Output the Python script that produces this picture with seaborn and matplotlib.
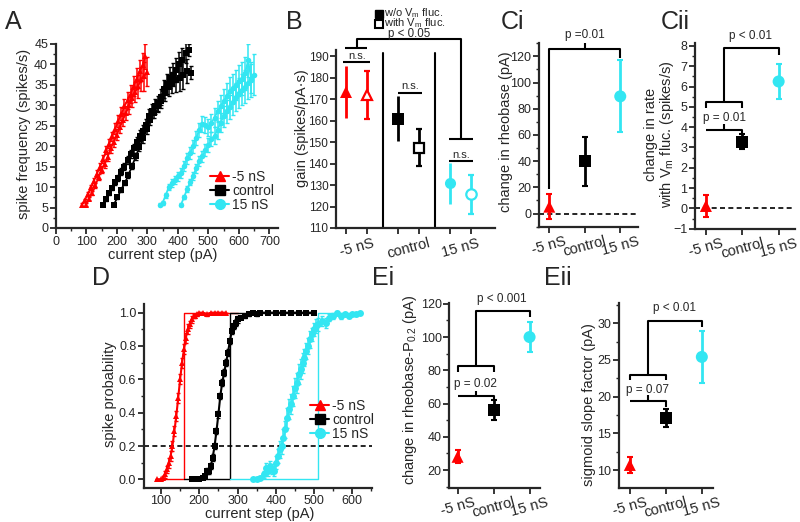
import matplotlib
matplotlib.use("Agg")
import matplotlib.pyplot as plt
import seaborn as sns
from matplotlib.lines import Line2D
from matplotlib.ticker import MultipleLocator

RED = "#ff0000"
BLK = "#000000"
CYN = "#33e6f2"
COLORS = [RED, BLK, CYN]
MARKERS = ["^", "s", "o"]
CONDS = ["-5 nS", "control", "15 nS"]

# ---- A: f-I curves (w/o and with Vm fluctuations) -------------------------
a_red_w_x = [85, 95, 105, 115, 125, 135, 145, 155, 165, 175, 185, 195, 205, 215,
             225, 235, 245, 255, 265, 275, 285, 293]
a_red_w_y = [5.7, 6.8, 8.3, 10.0, 11.6, 13.3, 15.0, 16.8, 19.0, 20.6, 22.4, 24.3,
             26.2, 27.9, 29.8, 31.2, 32.8, 34.8, 36.5, 38.4, 39.8, 42.0]
a_red_w_e = [0.3, 0.4, 0.5, 0.6, 0.7, 0.8, 0.9, 1.0, 1.0, 1.1, 1.2, 1.3, 1.4, 1.6,
             1.8, 2.0, 2.2, 2.4, 2.6, 2.8, 3.0, 3.0]
a_red_f_x = [100, 110, 120, 130, 140, 150, 160, 170, 180, 190, 200, 210, 220, 230,
             240, 250, 260, 270, 280, 290, 300]
a_red_f_y = [5.7, 7.2, 8.6, 10.4, 12.5, 14.3, 15.6, 17.4, 19.5, 21.0, 22.8, 24.6,
             26.5, 28.1, 30.0, 31.7, 33.2, 34.7, 36.4, 37.1, 38.2]
a_red_f_e = [0.3, 0.4, 0.5, 0.6, 0.7, 0.8, 0.9, 1.0, 1.1, 1.2, 1.3, 1.4, 1.6, 1.8,
             2.0, 2.2, 2.5, 2.8, 3.0, 3.5, 3.5]

a_blk_w_x = [155, 165, 175, 185, 195, 205, 215, 225, 235, 245, 255, 265, 275, 285,
             295, 305, 315, 325, 335, 345, 355, 365, 375, 385, 395, 405, 415, 425, 435]
a_blk_w_y = [5.7, 7.0, 8.5, 9.8, 11.2, 12.3, 13.8, 15.0, 16.7, 18.0, 19.5, 21.0,
             22.6, 23.8, 25.2, 27.5, 28.6, 29.8, 30.5, 32.0, 34.0, 35.2, 36.8, 37.5,
             38.6, 40.1, 41.0, 42.8, 43.5]
a_blk_w_e = [0.3, 0.4, 0.5, 0.5, 0.6, 0.7, 0.8, 0.9, 1.0, 1.0, 1.1, 1.2, 1.3, 1.4,
             1.5, 1.6, 1.7, 1.8, 1.9, 2.0, 2.2, 2.4, 2.6, 2.8, 3.0, 3.0, 3.0, 2.5, 1.5]
a_blk_f_x = [190, 202, 214, 226, 238, 250, 262, 274, 286, 298, 310, 322, 334, 346,
             358, 370, 382, 394, 406, 418, 430, 442]
a_blk_f_y = [5.7, 7.5, 9.4, 11.0, 13.0, 15.2, 17.5, 19.8, 22.0, 24.3, 26.5, 28.2,
             29.8, 31.0, 33.0, 34.6, 35.5, 36.2, 36.8, 37.5, 38.4, 38.0]
a_blk_f_e = [0.3, 0.4, 0.5, 0.6, 0.7, 0.8, 0.9, 1.0, 1.1, 1.2, 1.3, 1.4, 1.5, 1.7,
             2.0, 2.3, 2.6, 3.0, 3.3, 3.5, 3.0, 1.5]

a_cyn_w_x = [340, 350, 360, 370, 380, 390, 400, 410, 420, 430, 440, 450, 460, 470,
             480, 490, 500, 510, 520, 530, 540, 550, 560, 570, 580, 590, 600, 610,
             620, 630, 640]
a_cyn_w_y = [5.7, 6.2, 8.0, 10.0, 11.0, 11.8, 12.7, 13.5, 15.2, 17.0, 18.3, 20.0,
             22.0, 24.0, 25.5, 25.2, 24.6, 25.8, 27.0, 28.5, 29.8, 31.0, 32.2, 33.5,
             34.2, 35.0, 36.0, 36.5, 37.8, 41.0, 36.5]
a_cyn_w_e = [0.4, 0.5, 0.6, 0.8, 0.9, 1.0, 1.1, 1.2, 1.3, 1.4, 1.5, 1.6, 1.7, 1.8,
             1.9, 2.0, 2.0, 2.2, 2.4, 2.6, 2.8, 3.0, 3.2, 3.4, 3.5, 3.6, 3.8, 4.0,
             4.0, 4.0, 3.5]
a_cyn_f_x = [410, 420, 430, 440, 450, 460, 470, 480, 490, 500, 510, 520, 530, 540,
             550, 560, 570, 580, 590, 600, 610, 620, 630, 640, 650]
a_cyn_f_y = [5.7, 7.5, 9.5, 11.2, 12.8, 14.6, 16.3, 17.5, 19.0, 20.3, 21.8, 22.6,
             24.0, 25.8, 27.3, 28.5, 29.6, 30.8, 32.0, 33.0, 33.8, 34.6, 35.5, 36.3,
             37.5]
a_cyn_f_e = [0.4, 0.5, 0.7, 0.8, 1.0, 1.1, 1.2, 1.4, 1.5, 1.6, 1.8, 2.0, 2.2, 2.4,
             2.6, 2.8, 3.0, 3.2, 3.4, 3.6, 3.8, 4.0, 4.0, 4.2, 5.0]

# ---- B: gain ----------------------------------------------------------------
b_gain_wo = [173.5, 161.0, 130.8]
b_err_wo = [12.0, 10.5, 9.5]
b_gain_with = [172.0, 147.5, 125.7]
b_err_with = [11.0, 8.5, 9.0]

# ---- Ci / Cii ------------------------------------------------------------
ci_mean = [5.3, 39.9, 89.5]
ci_err = [9.8, 18.5, 27.5]
cii_mean = [0.12, 3.28, 6.25]
cii_err = [0.53, 0.36, 0.85]

# ---- D: spike probability -------------------------------------------------
d_red_x = [90, 100, 105, 110, 115, 120, 125, 130, 135, 140, 145, 150, 155, 160,
           165, 170, 175, 180, 185, 190, 195, 200, 210, 220, 230, 240, 250, 260, 270]
d_red_y = [0.0, 0.0, 0.01, 0.03, 0.06, 0.1, 0.14, 0.2, 0.29, 0.38, 0.49, 0.6, 0.7,
           0.78, 0.85, 0.9, 0.93, 0.96, 0.98, 0.98, 0.99, 1.0, 1.0, 0.99, 1.0, 1.0,
           1.0, 1.0, 1.0]
d_red_e = [0.0, 0.0, 0.01, 0.02, 0.02, 0.03, 0.03, 0.03, 0.03, 0.03, 0.03, 0.03,
           0.03, 0.03, 0.03, 0.03, 0.02, 0.02, 0.01, 0.01, 0.01, 0.0, 0.0, 0.01, 0.0,
           0.0, 0.0, 0.0, 0.0]
d_blk_x = [180, 190, 200, 210, 215, 220, 225, 230, 235, 240, 245, 250, 255, 260,
           265, 270, 275, 280, 285, 290, 295, 300, 310, 320, 330, 340, 350, 360, 380,
           400, 420, 440, 460, 480, 500]
d_blk_y = [0.0, 0.0, 0.0, 0.01, 0.02, 0.05, 0.05, 0.08, 0.13, 0.2, 0.29, 0.39, 0.5,
           0.58, 0.64, 0.7, 0.76, 0.83, 0.89, 0.92, 0.94, 0.96, 0.97, 0.98, 0.99, 1.0,
           0.99, 1.0, 1.0, 1.0, 1.0, 1.0, 1.0, 1.0, 1.0]
d_blk_e = [0.0, 0.0, 0.0, 0.01, 0.01, 0.02, 0.02, 0.02, 0.02, 0.02, 0.02, 0.02,
           0.02, 0.02, 0.02, 0.02, 0.02, 0.02, 0.02, 0.02, 0.02, 0.02, 0.01, 0.01,
           0.01, 0.0, 0.01, 0.0, 0.0, 0.0, 0.0, 0.0, 0.0, 0.0, 0.0]
d_cyn_x = [340, 350, 360, 370, 375, 380, 385, 390, 395, 400, 405, 410, 415, 420,
           425, 430, 435, 440, 445, 450, 455, 460, 465, 470, 475, 480, 485, 490, 495,
           500, 505, 510, 520, 530, 540, 550, 560, 570, 580, 590, 600, 610, 620]
d_cyn_y = [0.0, 0.0, 0.01, 0.03, 0.07, 0.05, 0.08, 0.06, 0.05, 0.1, 0.14, 0.18, 0.2,
           0.25, 0.3, 0.37, 0.42, 0.45, 0.5, 0.55, 0.58, 0.63, 0.66, 0.7, 0.73, 0.77,
           0.8, 0.84, 0.87, 0.9, 0.92, 0.93, 0.95, 0.94, 0.97, 0.98, 1.0, 0.98, 0.99,
           0.98, 0.99, 0.99, 1.0]
d_cyn_e = [0.0, 0.0, 0.01, 0.02, 0.03, 0.03, 0.03, 0.03, 0.03, 0.04, 0.04, 0.05,
           0.05, 0.05, 0.05, 0.06, 0.06, 0.06, 0.06, 0.06, 0.06, 0.06, 0.06, 0.06,
           0.05, 0.05, 0.05, 0.05, 0.04, 0.04, 0.04, 0.04, 0.03, 0.03, 0.02, 0.02,
           0.01, 0.02, 0.01, 0.01, 0.01, 0.01, 0.0]
# step functions at rheobase
d_step_red_x = [90, 160, 160, 300]
d_step_blk_x = [160, 280, 280, 500]
d_step_cyn_x = [280, 510, 510, 620]
d_step_y = [0, 0, 1, 1]

# ---- Ei / Eii ---------------------------------------------------------------
ei_mean = [28.0, 56.2, 100.0]
ei_err = [4.0, 5.8, 9.0]
eii_mean = [10.7, 17.1, 25.4]
eii_err = [1.1, 1.25, 3.5]

W, H = 800, 522


def box(l, t, r, b):
    return [l / W, 1 - b / H, (r - l) / W, (b - t) / H]


def style(ax, labelsize=8.5):
    sns.despine(ax=ax)
    for s in ("left", "bottom"):
        ax.spines[s].set_linewidth(1.6)
    ax.tick_params(which="major", direction="out", length=4, width=1.3,
                   labelsize=labelsize, pad=1.5)
    ax.tick_params(which="minor", direction="out", length=2, width=1.0)


def figtext(x, y, s, **kw):
    fig.text(x / W, 1 - y / H, s, ha="center", va="center", **kw)


def kline(ax, xs, ys):
    ax.plot(xs, ys, color="k", lw=1.5, clip_on=False, solid_capstyle="butt")


def cat_panel(ax, means, errs, ylim, xlim):
    for i in range(3):
        ax.errorbar(i, means[i], yerr=errs[i], fmt="none", ecolor=COLORS[i],
                    elinewidth=2, capsize=2, capthick=1.5, zorder=2)
    sns.scatterplot(x=[0, 1, 2], y=means, hue=CONDS, palette=COLORS, style=CONDS,
                    markers=dict(zip(CONDS, MARKERS)), s=75, linewidth=0,
                    legend=False, ax=ax, zorder=3)
    ax.set_xlim(*xlim)
    ax.set_ylim(*ylim)
    style(ax, labelsize=9)
    ax.set_xticks([0, 1, 2])
    ax.set_xticklabels(CONDS, rotation=15, fontsize=10.5, ha="center")


sns.set_style("ticks")
plt.rcParams["font.family"] = ["Liberation Sans", "DejaVu Sans"]
plt.rcParams["mathtext.fontset"] = "custom"
plt.rcParams["mathtext.rm"] = "Liberation Sans"
plt.rcParams["mathtext.it"] = "Liberation Sans"

fig = plt.figure(figsize=(8, 5.22), dpi=100)

# ---------------- A ----------------
ax = fig.add_axes(box(55.8, 44, 278, 228))
series_a = [
    (a_red_w_x, a_red_w_y, a_red_w_e, 0), (a_red_f_x, a_red_f_y, a_red_f_e, 0),
    (a_blk_w_x, a_blk_w_y, a_blk_w_e, 1), (a_blk_f_x, a_blk_f_y, a_blk_f_e, 1),
    (a_cyn_w_x, a_cyn_w_y, a_cyn_w_e, 2), (a_cyn_f_x, a_cyn_f_y, a_cyn_f_e, 2),
]
for xs, ys, es, k in series_a:
    ax.errorbar(xs, ys, yerr=es, fmt="none", ecolor=COLORS[k], elinewidth=1.1,
                capsize=1.2)
    sns.lineplot(x=xs, y=ys, color=COLORS[k], marker=MARKERS[k], markersize=4,
                 markeredgewidth=0, lw=1.3, ax=ax)
ax.set_xlim(0, 728)
ax.set_ylim(0, 45)
ax.set_xticks(range(0, 701, 100))
ax.set_yticks(range(0, 46, 5))
ax.xaxis.set_minor_locator(MultipleLocator(50))
ax.yaxis.set_minor_locator(MultipleLocator(2.5))
style(ax, labelsize=9)
handles = [Line2D([], [], color=c, marker=m, ms=7, lw=1.5) for c, m in zip(COLORS, MARKERS)]
ax.legend(handles, CONDS, loc="upper left", bbox_to_anchor=(203 / W, 1 - 163 / H),
          bbox_transform=fig.transFigure, frameon=False, fontsize=10,
          handlelength=1.4, handletextpad=0.2, labelspacing=0.0, borderpad=0)
figtext(24, 134, "spike frequency (spikes/s)", rotation=90, fontsize=10.5)
figtext(163, 255, "current step (pA)", fontsize=10.5)

# ---------------- B ----------------
ax = fig.add_axes(box(336, 50, 495, 228))
off = 0.2
for i in range(3):
    ax.errorbar(i - off, b_gain_wo[i], yerr=b_err_wo[i], fmt=MARKERS[i], color=COLORS[i],
                ms=8, mew=0, elinewidth=2, capsize=2, capthick=1.5)
    ax.errorbar(i + off, b_gain_with[i], yerr=b_err_with[i], fmt=MARKERS[i],
                color=COLORS[i], mfc="white", mec=COLORS[i], mew=1.6, ms=7.5,
                elinewidth=2, capsize=2, capthick=1.5)
for sx in (0.5, 1.5):
    ax.plot([sx, sx], [110, 191.5], color="k", lw=1.5)
ax.set_xlim(-0.4, 2.66)
ax.set_ylim(110, 193)
style(ax)
ax.set_xticks([i + d for i in range(3) for d in (-off, off)])
ax.set_xticklabels([])
ax.set_xticks([0, 1, 2], minor=True)
ax.set_xticklabels(CONDS, minor=True, rotation=15, fontsize=10.5)
ax.tick_params(axis="x", which="minor", length=0, pad=6)
ax.set_yticks(range(110, 191, 10))
# n.s. bars
for x0, x1, y in ((-0.26, 0.26, 187.4), (0.8, 1.26, 173.1), (1.77, 2.23, 141.3)):
    kline(ax, [x0, x1], [y, y])
    ax.text((x0 + x1) / 2, y + 0.6, "n.s.", ha="center", va="bottom", fontsize=8)
kline(ax, [-0.22, 0.2], [194, 194])
kline(ax, [0, 0, 2.0, 2.0], [194, 198, 198, 151.4])
kline(ax, [1.77, 2.23], [151.4, 151.4])
figtext(409, 33.5, "p < 0.05", fontsize=8.3)
figtext(294, 22, "B", fontsize=18)
figtext(302, 128, "gain (spikes/pA·s)", rotation=90, fontsize=10.5)
fig.add_artist(Line2D([379 / W], [1 - 14 / H], marker="s", color="k", ms=6,
                      ls="none", transform=fig.transFigure))
fig.add_artist(Line2D([379 / W], [1 - 23.5 / H], marker="s", color="k", ms=5.5,
                      mfc="white", mew=1.5, ls="none", transform=fig.transFigure))
fig.text(384 / W, 1 - 13.5 / H, "w/o V$_\\mathrm{m}$ fluc.", fontsize=8,
         ha="left", va="center")
fig.text(384 / W, 1 - 23 / H, "with V$_\\mathrm{m}$ fluc.", fontsize=8,
         ha="left", va="center")

# ---------------- Ci ----------------
ax = fig.add_axes(box(539, 43.3, 638, 226.7))
ax.axhline(0, color="k", lw=1.2, ls=(0, (3, 2)))
cat_panel(ax, ci_mean, ci_err, (-10, 130), (-0.29, 2.5))
ax.set_yticks(range(0, 121, 20))
ax.yaxis.set_minor_locator(MultipleLocator(10))
kline(ax, [0, 0, 2, 2], [19, 125.6, 125.6, 119])
kline(ax, [1, 1], [125.6, 130])
ax.text(1, 136.5, "p =0.01", ha="center", va="center", fontsize=8.5)
figtext(513, 22, "Ci", fontsize=18)
figtext(506, 132, "change in rheobase (pA)", rotation=90, fontsize=10.5)

# ---------------- Cii ----------------
ax = fig.add_axes(box(695, 43.3, 795, 228.7))
ax.axhline(0, color="k", lw=1.2, ls=(0, (3, 2)))
cat_panel(ax, cii_mean, cii_err, (-1, 8.13), (-0.3, 2.45))
ax.set_yticks(range(-1, 9))
ax.yaxis.set_minor_locator(MultipleLocator(0.5))
kline(ax, [0, 1, 1], [3.88, 3.88, 3.6])
kline(ax, [0.5, 0.5], [3.88, 4.15])
ax.text(0.5, 4.45, "p = 0.01", ha="center", va="center", fontsize=8.5)
kline(ax, [0, 0, 1, 1], [4.93, 5.25, 5.25, 4.93])
kline(ax, [0.5, 0.5, 2, 2], [5.25, 7.9, 7.9, 7.55])
ax.text(1.22, 8.5, "p < 0.01", ha="center", va="center", fontsize=8.5)
figtext(675, 22, "Cii", fontsize=18)
figtext(660, 134, "change in rate\nwith V$_\\mathrm{m}$ fluc. (spikes/s)", rotation=90,
        fontsize=10.5, linespacing=1.0)

# ---------------- D ----------------
ax = fig.add_axes(box(144, 304.3, 371.7, 487.7))
ax.plot(d_step_red_x, d_step_y, color=RED, lw=1.0)
ax.plot(d_step_blk_x, d_step_y, color=BLK, lw=1.0)
ax.plot(d_step_cyn_x, d_step_y, color=CYN, lw=1.0)
ax.axhline(0.2, color="k", lw=1.2, ls=(0, (3, 2)))
for xs, ys, es, k in ((d_red_x, d_red_y, d_red_e, 0), (d_blk_x, d_blk_y, d_blk_e, 1),
                      (d_cyn_x, d_cyn_y, d_cyn_e, 2)):
    ax.errorbar(xs, ys, yerr=es, fmt="none", ecolor=COLORS[k], elinewidth=1.1,
                capsize=1.2)
    sns.lineplot(x=xs, y=ys, color=COLORS[k], marker=MARKERS[k], markersize=5,
                 markeredgewidth=0, lw=1.5, ax=ax)
ax.set_xlim(55.6, 650.6)
ax.set_ylim(-0.05, 1.05)
style(ax, labelsize=9)
ax.set_xticks(range(100, 601, 100))
ax.set_yticks([0, 0.2, 0.4, 0.6, 0.8, 1.0])
ax.set_yticklabels(["0.0", "0.2", "0.4", "0.6", "0.8", "1.0"])
ax.xaxis.set_minor_locator(MultipleLocator(50))
ax.yaxis.set_minor_locator(MultipleLocator(0.1))
ax.legend(handles, CONDS, loc="upper left", bbox_to_anchor=(303 / W, 1 - 392 / H),
          bbox_transform=fig.transFigure, frameon=False, fontsize=10,
          handlelength=1.4, handletextpad=0.2, labelspacing=0.0, borderpad=0)
figtext(101, 278, "D", fontsize=18)
figtext(110, 394, "spike probability", rotation=90, fontsize=10.5)
figtext(260, 514, "current step (pA)", fontsize=10.5)

# ---------------- Ei ----------------
ax = fig.add_axes(box(449.3, 303.3, 540, 487.7))
cat_panel(ax, ei_mean, ei_err, (9.4, 120.3), (-0.23, 2.29))
ax.set_yticks(range(20, 121, 20))
ax.yaxis.set_minor_locator(MultipleLocator(10))
kline(ax, [0, 1, 1], [64.6, 64.6, 61.6])
kline(ax, [0.5, 0.5], [64.6, 67.4])
ax.text(0.5, 72, "p = 0.02", ha="center", va="center", fontsize=8.5)
kline(ax, [0, 0, 1, 1], [79.2, 82.8, 82.8, 79.2])
kline(ax, [0.5, 0.5, 2, 2], [82.8, 115.5, 115.5, 112])
ax.text(1.22, 123, "p < 0.001", ha="center", va="center", fontsize=8.5)
figtext(383, 278, "Ei", fontsize=18)
figtext(410, 390, "change in rheobase-P$_{0.2}$ (pA)", rotation=90, fontsize=10.5)

# ---------------- Eii ----------------
ax = fig.add_axes(box(619, 303.3, 713, 487.7))
cat_panel(ax, eii_mean, eii_err, (7.6, 32.7), (-0.3, 2.31))
ax.set_yticks(range(10, 31, 5))
ax.yaxis.set_minor_locator(MultipleLocator(2.5))
kline(ax, [0, 1, 1], [19.4, 19.4, 18.6])
kline(ax, [0.5, 0.5], [19.4, 20.2])
ax.text(0.5, 20.9, "p = 0.07", ha="center", va="center", fontsize=8.5)
kline(ax, [0, 0, 1, 1], [22.2, 22.96, 22.96, 22.2])
kline(ax, [0.5, 0.5, 2, 2], [22.96, 30.3, 30.3, 29.5])
ax.text(1.25, 32.05, "p < 0.01", ha="center", va="center", fontsize=8.5)
figtext(558, 278, "Eii", fontsize=18)
figtext(589, 405, "sigmoid slope factor (pA)", rotation=90, fontsize=10.5)

figtext(13, 22, "A", fontsize=18)

fig.savefig("out.png", dpi=100)
